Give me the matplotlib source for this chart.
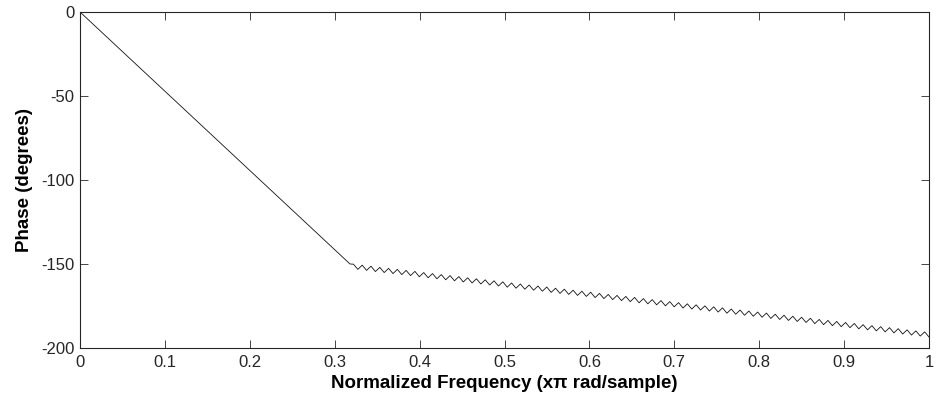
import numpy as np
import matplotlib.pyplot as plt

# linear-phase part (start and knee)
knee_freq = [0.0, 0.318]
knee_phase = [0.0, -150.0]

# rippled part after the knee, peaks and troughs
ripple_phase = [
    -150.1, -153.2, -150.7, -153.8, -151.3, -154.5, -152.0, -155.1, -152.6, -155.7,
    -153.2, -156.3, -153.8, -156.9, -154.4, -157.6, -155.1, -158.2, -155.7, -158.8,
    -156.3, -159.4, -156.9, -160.0, -157.5, -160.7, -158.2, -161.3, -158.8, -161.9,
    -159.4, -162.5, -160.0, -163.1, -160.6, -163.8, -161.3, -164.4, -161.9, -165.0,
    -162.5, -165.6, -163.1, -166.2, -163.7, -166.9, -164.4, -167.5, -165.0, -168.1,
    -165.6, -168.7, -166.2, -169.3, -166.8, -170.0, -167.5, -170.6, -168.1, -171.2,
    -168.7, -171.8, -169.3, -172.4, -169.9, -173.1, -170.6, -173.7, -171.2, -174.3,
    -171.8, -174.9, -172.4, -175.5, -173.0, -176.2, -173.7, -176.8, -174.3, -177.4,
    -174.9, -178.0, -175.5, -178.6, -176.1, -179.3, -176.8, -179.9, -177.4, -180.5,
    -178.0, -181.1, -178.6, -181.7, -179.2, -182.4, -179.9, -183.0, -180.5, -183.6,
    -181.1, -184.2, -181.7, -184.8, -182.3, -185.5, -183.0, -186.1, -183.6, -186.7,
    -184.2, -187.3, -184.8, -187.9, -185.4, -188.6, -186.1, -189.2, -186.7, -189.8,
    -187.3, -190.4, -187.9, -191.0, -188.5, -191.7, -189.2, -192.3, -189.8, -192.9,
    -190.4, -193.5,
]
ripple_freq = np.linspace(0.322, 1.0, len(ripple_phase))

freq = np.concatenate([knee_freq, ripple_freq])
phase = np.concatenate([knee_phase, ripple_phase])

x_ticks = [0, 0.1, 0.2, 0.3, 0.4, 0.5, 0.6, 0.7, 0.8, 0.9, 1]
x_tick_labels = ["0", "0.1", "0.2", "0.3", "0.4", "0.5", "0.6", "0.7", "0.8", "0.9", "1"]
y_ticks = [-200, -150, -100, -50, 0]

plt.rcParams["font.family"] = ["Liberation Sans", "DejaVu Sans"]
plt.rcParams["axes.unicode_minus"] = False

figure = plt.figure(figsize=(9.34, 4.03), dpi=100)
axis = figure.add_axes([0.0857, 0.1365, 0.909, 0.8337])

axis.plot(freq, phase, color="#111111", linewidth=0.6)

axis.set_xlim(0, 1)
axis.set_ylim(-200, 0)
axis.set_xticks(x_ticks)
axis.set_xticklabels(x_tick_labels)
axis.set_yticks(y_ticks)
axis.tick_params(
    direction="in",
    top=True,
    right=True,
    length=6,
    width=0.6,
    labelsize=12,
    colors="#262626",
)
axis.tick_params(axis="x", pad=5)
axis.tick_params(axis="y", pad=4)
for spine in axis.spines.values():
    spine.set_linewidth(0.8)
    spine.set_color("#262626")

axis.set_xlabel("Normalized Frequency (x\u03c0 rad/sample)", fontsize=13.5,
                fontweight="bold", labelpad=4)
axis.set_ylabel("Phase (degrees)", fontsize=13.5, fontweight="bold", labelpad=6)

figure.savefig("out.png", dpi=100)
